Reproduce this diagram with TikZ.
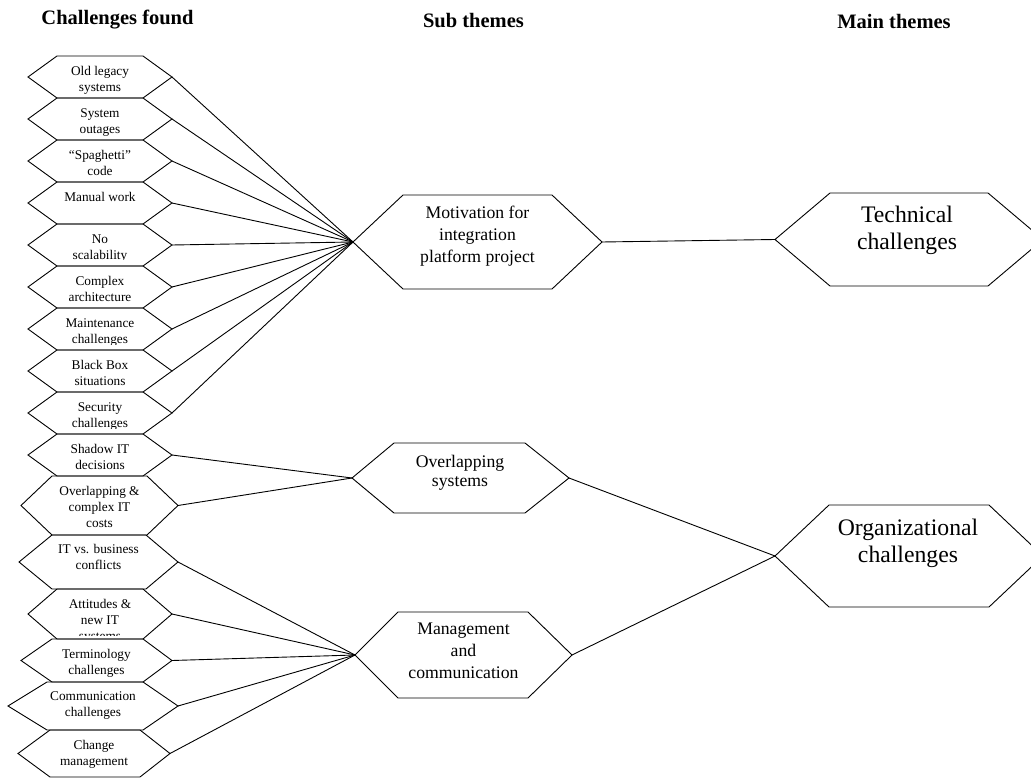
\documentclass[tikz,border=0pt]{standalone}
\usepackage{fontspec}
\setmainfont{Liberation Serif}
\newcommand{\hexshape}[7]{% #1 name, #2 xl, #3 xa, #4 xb, #5 xr, #6 yt, #7 yb
  \pgfmathsetmacro\hexmidy{(#6+#7)/2}
  \coordinate (#1-w) at (#2,\hexmidy);
  \coordinate (#1-e) at (#5,\hexmidy);
  \draw[hexline] (#1-w) -- (#3,#6) -- (#4,#6) -- (#1-e) -- (#4,#7) -- (#3,#7) -- cycle;
}
\begin{document}
\begin{tikzpicture}[x=1pt,y=-1pt,
  hexline/.style={draw=black, line width=0.9pt, line join=miter},
  conn/.style={draw=black, line width=0.9pt},
  ctext/.style={anchor=north, inner sep=0pt, align=center, font=\fontsize{13.3}{16}\selectfont},
  stext/.style={anchor=north, inner sep=0pt, align=center, font=\fontsize{17.7}{22.2}\selectfont},
  mtext/.style={anchor=north, inner sep=0pt, align=center, font=\fontsize{23.7}{27}\selectfont},
  head/.style={anchor=base, inner sep=0pt, font=\bfseries\fontsize{20.5}{24}\selectfont}]
\clip (0,0) rectangle (1031,778);

% headers
\node[head] (h1) at (117.5,25) {Challenges found};
\node[head] (h2) at (473.5,28) {Sub themes};
\node[head] (h3) at (894,29) {Main themes};

% challenges found
\hexshape{old}{28}{57}{143}{172}{56}{98}
\node[ctext] (told) at (100,63.8) {\strut Old legacy\\systems};
\hexshape{sys}{28}{57}{143}{172}{98}{140}
\node[ctext] (tsys) at (100,105.8) {\strut System\\outages};
\hexshape{spa}{28}{57}{143}{172}{140}{182}
\node[ctext] (tspa) at (100,147.8) {\strut ``Spaghetti''\\code};
\hexshape{man}{28}{57}{143}{172}{182}{224}
\node[ctext] (tman) at (100,189.8) {\strut Manual work};
\hexshape{nos}{28}{57}{143}{172}{224}{266}
\begin{scope}
\clip (28,224) rectangle (172,259.5);
\node[ctext] (tnos) at (100,231.8) {\strut No\\scalability};
\end{scope}
\hexshape{cpx}{28}{57}{143}{172}{266}{308}
\node[ctext] (tcpx) at (100,273.8) {\strut Complex\\architecture};
\hexshape{mnt}{28}{57}{143}{172}{308}{350}
\begin{scope}
\clip (28,308) rectangle (172,344.5);
\node[ctext] (tmnt) at (100,315.8) {\strut Maintenance\\challenges};
\end{scope}
\hexshape{blk}{28}{57}{143}{172}{350}{392}
\node[ctext] (tblk) at (100,357.8) {\strut Black Box\\situations};
\hexshape{sec}{28}{57}{143}{172}{392}{434}
\begin{scope}
\clip (28,392) rectangle (172,428.5);
\node[ctext] (tsec) at (100,399.8) {\strut Security\\challenges};
\end{scope}
\hexshape{shd}{28}{57}{143}{172}{434}{476}
\node[ctext] (tshd) at (100,441.8) {\strut Shadow IT\\decisions};
\hexshape{ovc}{21}{52}{147}{178}{476}{535}
\node[ctext] (tovc) at (99.5,483.8) {\strut Overlapping \&\\complex IT\\costs};
\hexshape{itb}{19}{52}{146}{178}{535}{589}
\node[ctext] (titb) at (98.5,542.1) {\strut IT vs. business\\conflicts};
\hexshape{att}{28}{57}{143}{172}{589}{639}
\begin{scope}
\clip (28,589) rectangle (172,635.5);
\node[ctext] (tatt) at (100,596.8) {\strut Attitudes \&\\new IT\\systems};
\end{scope}
\hexshape{ter}{21}{52}{143}{172}{639}{682}
\node[ctext] (tter) at (96.5,646.8) {\strut Terminology\\challenges};
\hexshape{com}{8}{47}{143}{178}{682}{730}
\node[ctext] (tcom) at (93,688.8) {\strut Communication\\challenges};
\hexshape{chg}{18}{50}{140}{170}{730}{777}
\node[ctext] (tchg) at (94,737.8) {\strut Change\\management};

% sub themes
\hexshape{mot}{353}{403}{552}{602}{195}{289}
\node[stext] (tmot) at (477.5,202.8) {\strut Motivation for\\integration\\platform project};
\hexshape{ovl}{352}{394}{525}{569}{443}{513}
\node[stext, font=\fontsize{17.7}{19}\selectfont] (tovl) at (460,454) {\strut Overlapping\\systems};
\hexshape{mgt}{355}{398}{528}{572}{612}{698}
\node[stext] (tmgt) at (463.5,618.5) {\strut Management\\and\\communication};

% main themes
\hexshape{tec}{775}{830}{988}{1043}{193}{286}
\node[mtext] (ttec) at (907,203.8) {\strut Technical\\challenges};
\hexshape{org}{775}{829}{989}{1043}{505}{607}
\node[mtext] (torg) at (908,516) {\strut Organizational\\challenges};

% connectors
\foreach \s in {old,sys,spa,man,nos,cpx,mnt,blk,sec}
  \draw[conn] (\s-e) -- (mot-w);
\foreach \s in {shd,ovc}
  \draw[conn] (\s-e) -- (ovl-w);
\foreach \s in {itb,att,ter,com,chg}
  \draw[conn] (\s-e) -- (mgt-w);
\draw[conn] (mot-e) -- (tec-w);
\draw[conn] (ovl-e) -- (org-w);
\draw[conn] (mgt-e) -- (org-w);
\end{tikzpicture}
\end{document}
